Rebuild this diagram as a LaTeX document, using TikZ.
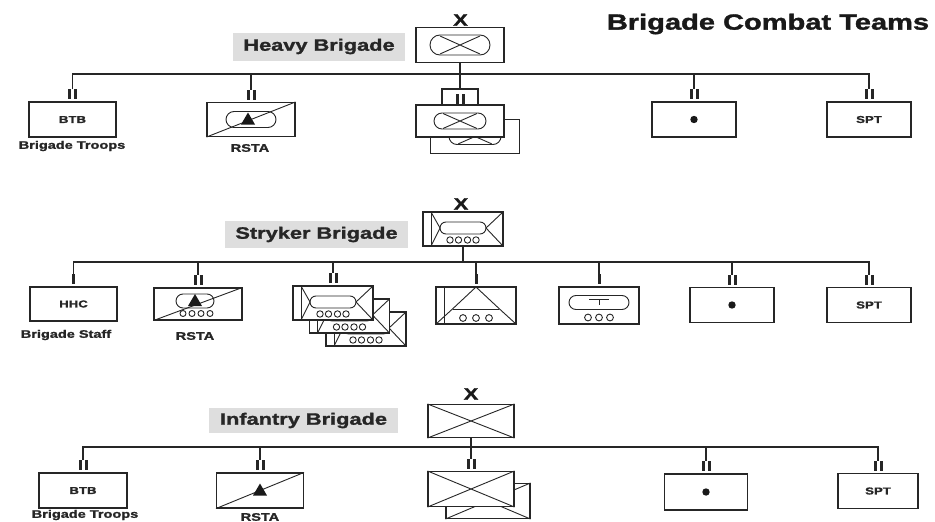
\documentclass[tikz,border=0pt]{standalone}
\usepackage{fontspec}
\setmainfont{Liberation Sans}[BoldFeatures={FakeBold=1.3}]
\usetikzlibrary{calc}
\newcommand\stretchtxt[1]{\scalebox{1.32}[1]{#1}}
\tikzset{
  unit/.style={draw=black!85, line width=1.1pt, fill=white, rectangle, inner sep=0pt},
  conn/.style={draw=black!85, line width=1.8pt, line join=miter},
  lbl/.style={fill=black!13, inner sep=0pt, font=\bfseries\fontsize{16.5}{16.5}\selectfont, text=black!85},
  small/.style={font=\bfseries\fontsize{11}{11}\selectfont, inner sep=0pt, text=black!85},
  intext/.style={font=\bfseries\fontsize{10}{10}\selectfont, inner sep=0pt, text=black!85},
  ech/.style={font=\bfseries\fontsize{16.5}{16.5}\selectfont, inner sep=0pt, text=black!90},
  sym/.style={draw=black!85, line width=0.9pt},
  twobar/.pic={\fill[black!85] (-4.5,-2) rectangle (-1.5,-12); \fill[black!85] (1.5,-2) rectangle (4.5,-12);},
  onebar/.pic={\fill[black!85] (-1.5,-2) rectangle (1.5,-12);},
  armxL/.pic={\draw[sym, rounded corners=10pt] (-30,-10) rectangle (30,10);
             \draw[sym] (-20,-9) -- (20,9) (-20,9) -- (20,-9);},
  armx/.pic={\draw[sym, rounded corners=8pt] (-26,-8) rectangle (26,8);
             \draw[sym] (-17,-7.5) -- (17,7.5) (-17,7.5) -- (17,-7.5);},
  rstah/.pic={\draw[sym, rounded corners=8pt] (-25,-8) rectangle (25,8);
              \fill[black!90] (-3,-7) -- (-10,5) -- (4,5) -- cycle;},
  strk/.pic={\draw[sym] (-32,-17) -- (-32,17);
             \draw[sym, rounded corners=6pt] (-23,-7) rectangle (23,5);
             \draw[sym] (-32,-17) -- (-23,-1) (40,-17) -- (23,-1) (-32,17) -- (-23,-1) (40,17) -- (23,-1);
             \foreach \x in {-13,-4.5,4.5,13} \draw[sym] (\x,11) circle (3.2);},
  rstas/.pic={\draw[sym, rounded corners=7pt] (-22,-10) rectangle (16,4);
              \fill[black!90] (-3,-10) -- (-10,2) -- (4,2) -- cycle;
              \foreach \x in {-15,-6,3,12} \draw[sym] (\x,9.5) circle (3);},
  atk/.pic={\draw[sym] (-32,-18.5) -- (-32,18.5);
            \draw[sym] (-40,18.5) -- (-23,3) -- (0,-18.5) -- (23,3) -- (40,18.5);
            \draw[sym] (-23,4) -- (23,4);
            \foreach \x in {-13,0,13} \draw[sym] (\x,12.5) circle (3.4);},
  ellw/.pic={\draw[sym, rounded corners=7pt] (-30,-10) rectangle (30,4);
             \draw[sym] (-10,-6) -- (10,-6) (0,-6) -- (0,-1);
             \foreach \x in {-11,0,11} \draw[sym] (\x,12) circle (3.4);},
}
\begin{document}
\begin{tikzpicture}[x=1pt,y=-1pt]
\useasboundingbox (0,0) rectangle (935,522);
\fill[white] (0,0) rectangle (935,522);

% Title
\node[font=\bfseries\fontsize{22}{22}\selectfont, inner sep=0pt, text=black!90] (title) at (768,24) {\stretchtxt{Brigade Combat Teams}};

% ================= Heavy Brigade =================
\node[ech] (xH) at (460.5,20) {\stretchtxt{X}};
\node[unit, minimum width=88pt, minimum height=35pt] (hqH) at (460,45) {};
\pic at (hqH) {armxL};
\node[lbl, minimum width=172pt, minimum height=28pt] (lH) at (319,46.5) {\stretchtxt{Heavy Brigade}};
\coordinate (busH) at (460,74);

\node[unit, minimum width=87pt, minimum height=35pt] (btbH) at (72.5,119.5) {};
\node[intext] (btbHt) at (btbH) {\stretchtxt{BTB}};
\node[small] (btbHl) at (72,146) {\stretchtxt{Brigade Troops}};

\node[unit, minimum width=88pt, minimum height=34pt] (rstaH) at (251,119.5) {};
\draw[sym] (rstaH.south west) -- (rstaH.north east);
\pic at (rstaH) {rstah};
\node[small] (rstaHl) at (250,148) {\stretchtxt{RSTA}};

\node[unit, minimum width=89pt, minimum height=34pt] (cabHb) at (475,136.5) {};
\pic at (cabHb) {armx};
\node[unit, minimum width=88pt, minimum height=32pt] (cabH) at (460,121) {};
\pic at (cabH) {armx};
\node[unit, minimum width=36pt, minimum height=16pt] (cabHs) at (460,97) {};
\pic at (cabHs.south) {twobar};

\node[unit, minimum width=84pt, minimum height=35pt] (sigH) at (694,119.5) {};
\fill[black!90] (sigH) circle (3.7);
\node[unit, minimum width=84pt, minimum height=35pt] (sptH) at (869,119.5) {};
\node[intext] (sptHt) at (sptH) {\stretchtxt{SPT}};

\draw[conn] (hqH.south) -- (cabHs.north);
\draw[conn] ($(btbH.north)+(0,-12)$) -- (btbH.north |- busH) -- (sptH.north |- busH) -- ($(sptH.north)+(0,-12)$);
\draw[conn] (rstaH.north |- busH) -- ($(rstaH.north)+(0,-12)$);
\draw[conn] (sigH.north |- busH) -- ($(sigH.north)+(0,-12)$);
\foreach \n in {btbH,rstaH,sigH,sptH} \pic at (\n.north) {twobar};

% ================= Stryker Brigade =================
\node[ech] (xS) at (461,204) {\stretchtxt{X}};
\node[unit, minimum width=80pt, minimum height=34pt] (hqS) at (463,229) {};
\pic at (hqS) {strk};
\node[lbl, minimum width=183pt, minimum height=27pt] (lS) at (316.5,234.5) {\stretchtxt{Stryker Brigade}};
\coordinate (busS) at (463,262);

\node[unit, minimum width=87pt, minimum height=34pt] (hhcS) at (73.5,304) {};
\node[intext] (hhcSt) at (hhcS) {\stretchtxt{HHC}};
\node[small] (hhcSl) at (66,335) {\stretchtxt{Brigade Staff}};

\node[unit, minimum width=88pt, minimum height=32pt] (rstaS) at (198,304) {};
\draw[sym] (rstaS.south west) -- (rstaS.north east);
\pic at (rstaS) {rstas};
\node[small] (rstaSl) at (195,336) {\stretchtxt{RSTA}};

\node[unit, minimum width=80pt, minimum height=34pt] (infS3) at (366,329) {};
\pic at (infS3) {strk};
\node[unit, minimum width=80pt, minimum height=34pt] (infS2) at (349.5,316) {};
\pic at (infS2) {strk};
\node[unit, minimum width=80pt, minimum height=34pt] (infS) at (333,303) {};
\pic at (infS) {strk};

\node[unit, minimum width=80pt, minimum height=37pt] (atS) at (476,305.5) {};
\pic at (atS) {atk};
\node[unit, minimum width=80pt, minimum height=37pt] (wlS) at (599,305.5) {};
\pic at (wlS) {ellw};

\node[unit, minimum width=84pt, minimum height=35pt] (sigS) at (732,305) {};
\fill[black!90] (sigS) circle (3.7);
\node[unit, minimum width=84pt, minimum height=35pt] (sptS) at (869,305) {};
\node[intext] (sptSt) at (sptS) {\stretchtxt{SPT}};

\draw[conn] (hqS.south) -- (hqS.south |- busS);
\draw[conn] ($(hhcS.north)+(0,-12)$) -- (hhcS.north |- busS) -- (sptS.north |- busS) -- ($(sptS.north)+(0,-12)$);
\foreach \n in {rstaS,infS,atS,wlS,sigS}
  \draw[conn] (\n.north |- busS) -- ($(\n.north)+(0,-12)$);
\foreach \n in {hhcS,atS,wlS} \pic at (\n.north) {onebar};
\foreach \n in {rstaS,infS,sigS,sptS} \pic at (\n.north) {twobar};

% ================= Infantry Brigade =================
\node[ech] (xI) at (471,394) {\stretchtxt{X}};
\node[unit, minimum width=86pt, minimum height=33pt] (hqI) at (471,421) {};
\draw[sym] (hqI.south west) -- (hqI.north east) (hqI.north west) -- (hqI.south east);
\node[lbl, minimum width=189pt, minimum height=25pt] (lI) at (303.5,420.5) {\stretchtxt{Infantry Brigade}};
\coordinate (busI) at (471,447);

\node[unit, minimum width=88pt, minimum height=35pt] (btbI) at (83,490.5) {};
\node[intext] (btbIt) at (btbI) {\stretchtxt{BTB}};
\node[small] (btbIl) at (85,515) {\stretchtxt{Brigade Troops}};

\node[unit, minimum width=87pt, minimum height=35pt] (rstaI) at (260,490.5) {};
\draw[sym] (rstaI.south west) -- (rstaI.north east);
\fill[black!90] ($(rstaI)+(0,-7)$) -- ++(-7,12) -- ++(14,0) -- cycle;
\node[small] (rstaIl) at (260,517) {\stretchtxt{RSTA}};

\node[unit, minimum width=84pt, minimum height=35pt] (infIb) at (488,501) {};
\draw[sym] (infIb.south west) -- (infIb.north east) (infIb.north west) -- (infIb.south east);
\node[unit, minimum width=86pt, minimum height=35pt] (infI) at (471,489) {};
\draw[sym] (infI.south west) -- (infI.north east) (infI.north west) -- (infI.south east);

\node[unit, minimum width=83pt, minimum height=36pt] (sigI) at (706,492) {};
\fill[black!90] (sigI) circle (3.7);
\node[unit, minimum width=80pt, minimum height=35pt] (sptI) at (878,491) {};
\node[intext] (sptIt) at (sptI) {\stretchtxt{SPT}};

\draw[conn] (hqI.south) -- (hqI.south |- busI);
\draw[conn] ($(btbI.north)+(0,-12)$) -- (btbI.north |- busI) -- (sptI.north |- busI) -- ($(sptI.north)+(0,-12)$);
\foreach \n in {rstaI,infI,sigI}
  \draw[conn] (\n.north |- busI) -- ($(\n.north)+(0,-12)$);
\foreach \n in {btbI,rstaI,infI,sigI,sptI} \pic at (\n.north) {twobar};
\end{tikzpicture}
\end{document}
